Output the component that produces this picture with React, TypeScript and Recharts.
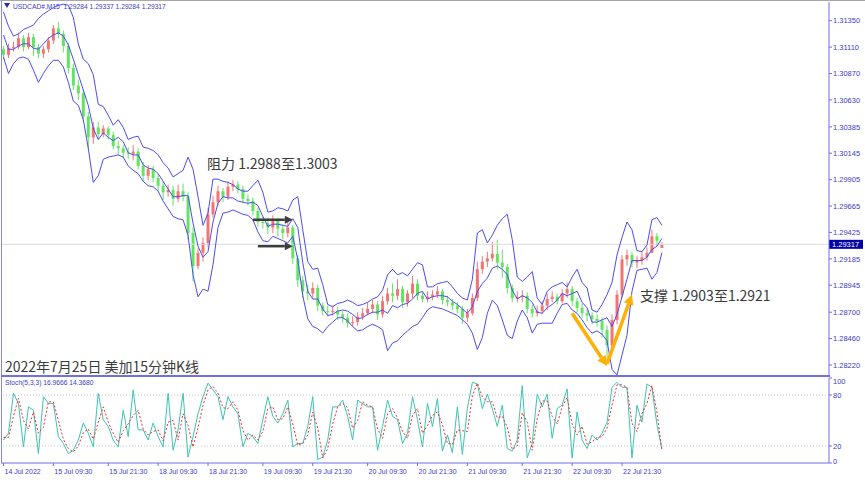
import React from 'react';
import { ComposedChart, Bar, Line, XAxis, YAxis, ReferenceLine } from 'recharts';

// USDCAD M15, one row per ~72 minutes of the screenshot
const open = [
  1.3109, 1.3104, 1.3110, 1.3111, 1.3119, 1.3111, 1.3120, 1.3111, 1.3105, 1.3109,
  1.3117, 1.3128, 1.3123, 1.3112, 1.3092, 1.3076, 1.3069, 1.3048, 1.3029, 1.3038,
  1.3032, 1.3037, 1.3031, 1.3021, 1.3019, 1.3015, 1.3014, 1.3016, 1.3003, 1.2994,
  1.3000, 1.2992, 1.2985, 1.2979, 1.2981, 1.2973, 1.2980, 1.2975, 1.2942, 1.2912,
  1.2924, 1.2933, 1.2959, 1.2970, 1.2980, 1.2975, 1.2984, 1.2986, 1.2982, 1.2973,
  1.2971, 1.2962, 1.2952, 1.2951, 1.2947, 1.2953, 1.2946, 1.2942, 1.2947, 1.2919,
  1.2899, 1.2889, 1.2887, 1.2892, 1.2876, 1.2871, 1.2870, 1.2871, 1.2868, 1.2865,
  1.2860, 1.2861, 1.2866, 1.2869, 1.2873, 1.2877, 1.2868, 1.2880, 1.2887, 1.2885,
  1.2891, 1.2879, 1.2887, 1.2896, 1.2885, 1.2882, 1.2884, 1.2886, 1.2889, 1.2881,
  1.2879, 1.2876, 1.2873, 1.2865, 1.2869, 1.2883, 1.2909, 1.2916, 1.2919, 1.2923,
  1.2915, 1.2911, 1.2892, 1.2883, 1.2884, 1.2885, 1.2873, 1.2869, 1.2871, 1.2876,
  1.2882, 1.2884, 1.2880, 1.2887, 1.2891, 1.2880, 1.2874, 1.2869, 1.2867, 1.2864,
  1.2862, 1.2854, 1.2840, 1.2863, 1.2886, 1.2918, 1.2922, 1.2915, 1.2917, 1.2920,
  1.2924, 1.2939, 1.29284,
];

const high = [
  1.3112, 1.3114, 1.3116, 1.3124, 1.3122, 1.3124, 1.3123, 1.3114, 1.3112, 1.3120,
  1.3131, 1.3134, 1.3126, 1.3115, 1.3096, 1.3081, 1.3072, 1.3052, 1.3043, 1.3043,
  1.3040, 1.3039, 1.3034, 1.3026, 1.3022, 1.3020, 1.3022, 1.3019, 1.3007, 1.3004,
  1.3003, 1.2996, 1.2989, 1.2986, 1.2985, 1.2986, 1.2987, 1.2979, 1.2947, 1.2928,
  1.2938, 1.2965, 1.2976, 1.2985, 1.2983, 1.2989, 1.2990, 1.2989, 1.2985, 1.2977,
  1.2974, 1.2965, 1.2957, 1.2956, 1.2958, 1.2956, 1.2950, 1.2952, 1.2949, 1.2922,
  1.2903, 1.2895, 1.2897, 1.2895, 1.2879, 1.2876, 1.2876, 1.2875, 1.2871, 1.2869,
  1.2866, 1.2870, 1.2874, 1.2879, 1.2881, 1.2880, 1.2885, 1.2892, 1.2896, 1.2900,
  1.2894, 1.2890, 1.2903, 1.2900, 1.2889, 1.2889, 1.2890, 1.2894, 1.2891, 1.2885,
  1.2882, 1.2879, 1.2876, 1.2873, 1.2887, 1.2916, 1.2921, 1.2925, 1.2934, 1.2936,
  1.2927, 1.2914, 1.2895, 1.2889, 1.2890, 1.2888, 1.2877, 1.2876, 1.2880, 1.2887,
  1.2889, 1.2887, 1.2891, 1.2897, 1.2894, 1.2883, 1.2878, 1.2873, 1.2870, 1.2868,
  1.2865, 1.2858, 1.2868, 1.2890, 1.2922, 1.2927, 1.2925, 1.2921, 1.2925, 1.2929,
  1.2945, 1.2942, 1.29337,
];

const low = [
  1.3100, 1.3101, 1.3107, 1.3109, 1.3107, 1.3109, 1.3103, 1.3101, 1.3101, 1.3106,
  1.3114, 1.3119, 1.3106, 1.3087, 1.3072, 1.3063, 1.3043, 1.3018, 1.3023, 1.3027,
  1.3029, 1.3027, 1.3018, 1.3013, 1.3010, 1.3009, 1.3008, 1.3000, 1.2989, 1.2990,
  1.2988, 1.2980, 1.2972, 1.2975, 1.2967, 1.2970, 1.2971, 1.2936, 1.2898, 1.2909,
  1.2916, 1.2929, 1.2956, 1.2967, 1.2970, 1.2972, 1.2980, 1.2978, 1.2969, 1.2967,
  1.2958, 1.2948, 1.2946, 1.2941, 1.2942, 1.2939, 1.2936, 1.2938, 1.2914, 1.2893,
  1.2883, 1.2881, 1.2883, 1.2871, 1.2867, 1.2866, 1.2867, 1.2863, 1.2860, 1.2856,
  1.2857, 1.2858, 1.2863, 1.2867, 1.2869, 1.2863, 1.2865, 1.2877, 1.2879, 1.2881,
  1.2874, 1.2875, 1.2883, 1.2881, 1.2879, 1.2879, 1.2881, 1.2883, 1.2877, 1.2875,
  1.2872, 1.2869, 1.2859, 1.2861, 1.2867, 1.2880, 1.2905, 1.2911, 1.2916, 1.2909,
  1.2901, 1.2887, 1.2879, 1.2879, 1.2879, 1.2869, 1.2865, 1.2866, 1.2868, 1.2872,
  1.2879, 1.2877, 1.2878, 1.2883, 1.2876, 1.2870, 1.2865, 1.2862, 1.2859, 1.2857,
  1.2847, 1.2827, 1.2834, 1.2859, 1.2883, 1.2912, 1.2911, 1.2910, 1.2913, 1.2917,
  1.2924, 1.2930, 1.29284,
];

const close = [
  1.3104, 1.3110, 1.3111, 1.3119, 1.3111, 1.3120, 1.3111, 1.3105, 1.3109, 1.3117,
  1.3128, 1.3123, 1.3112, 1.3092, 1.3076, 1.3069, 1.3048, 1.3029, 1.3038, 1.3032,
  1.3037, 1.3031, 1.3021, 1.3019, 1.3015, 1.3014, 1.3016, 1.3003, 1.2994, 1.3000,
  1.2992, 1.2985, 1.2979, 1.2981, 1.2973, 1.2980, 1.2975, 1.2942, 1.2912, 1.2924,
  1.2933, 1.2959, 1.2970, 1.2980, 1.2975, 1.2984, 1.2986, 1.2982, 1.2973, 1.2971,
  1.2962, 1.2952, 1.2951, 1.2947, 1.2953, 1.2946, 1.2942, 1.2947, 1.2919, 1.2899,
  1.2889, 1.2887, 1.2892, 1.2876, 1.2871, 1.2870, 1.2871, 1.2868, 1.2865, 1.2860,
  1.2861, 1.2866, 1.2869, 1.2873, 1.2877, 1.2868, 1.2880, 1.2887, 1.2885, 1.2891,
  1.2879, 1.2887, 1.2896, 1.2885, 1.2882, 1.2884, 1.2886, 1.2889, 1.2881, 1.2879,
  1.2876, 1.2873, 1.2865, 1.2869, 1.2883, 1.2909, 1.2916, 1.2919, 1.2923, 1.2915,
  1.2911, 1.2892, 1.2883, 1.2884, 1.2885, 1.2873, 1.2869, 1.2871, 1.2876, 1.2882,
  1.2884, 1.2880, 1.2887, 1.2891, 1.2880, 1.2874, 1.2869, 1.2867, 1.2864, 1.2862,
  1.2854, 1.2840, 1.2863, 1.2886, 1.2918, 1.2922, 1.2915, 1.2917, 1.2920, 1.2924,
  1.2939, 1.2935, 1.29317,
];

// bollinger bands
const bbUpper = [
  1.3143, 1.3130, 1.3121, 1.3123, 1.3127, 1.3129, 1.3131, 1.3137, 1.3141, 1.3144,
  1.3147, 1.3149, 1.3150, 1.3149, 1.3138, 1.3114, 1.3100, 1.3096, 1.3086, 1.3059,
  1.3057, 1.3049, 1.3040, 1.3045, 1.3038, 1.3027, 1.3029, 1.3030, 1.3020, 1.3019,
  1.3017, 1.3013, 1.3006, 1.3001, 1.2993, 1.2996, 1.2999, 1.3011, 1.3000, 1.2975,
  1.2949, 1.2960, 1.2991, 1.2991, 1.2989, 1.2988, 1.2986, 1.2982, 1.2980, 1.2980,
  1.2985, 1.2990, 1.2979, 1.2961, 1.2962, 1.2965, 1.2964, 1.2962, 1.2972, 1.2975,
  1.2945, 1.2916, 1.2909, 1.2910, 1.2895, 1.2877, 1.2875, 1.2878, 1.2879, 1.2881,
  1.2879, 1.2876, 1.2877, 1.2879, 1.2882, 1.2884, 1.2890, 1.2904, 1.2909, 1.2904,
  1.2906, 1.2903, 1.2909, 1.2915, 1.2913, 1.2893, 1.2893, 1.2896, 1.2897, 1.2898,
  1.2893, 1.2887, 1.2883, 1.2881, 1.2900, 1.2942, 1.2945, 1.2933, 1.2940, 1.2949,
  1.2955, 1.2959, 1.2936, 1.2902, 1.2898, 1.2902, 1.2907, 1.2883, 1.2877, 1.2889,
  1.2893, 1.2895, 1.2897, 1.2893, 1.2902, 1.2909, 1.2897, 1.2892, 1.2872, 1.2870,
  1.2877, 1.2886, 1.2897, 1.2922, 1.2938, 1.2952, 1.2945, 1.2926, 1.2925, 1.2931,
  1.2954, 1.2956, 1.2949,
];

const bbMid = [
  1.3122, 1.3109, 1.3109, 1.3112, 1.3114, 1.3114, 1.3110, 1.3109, 1.3114, 1.3119,
  1.3122, 1.3124, 1.3121, 1.3113, 1.3100, 1.3086, 1.3072, 1.3058, 1.3037, 1.3027,
  1.3033, 1.3029, 1.3026, 1.3029, 1.3025, 1.3015, 1.3013, 1.3013, 1.3004, 1.3001,
  1.3000, 1.2996, 1.2989, 1.2982, 1.2975, 1.2975, 1.2976, 1.2976, 1.2951, 1.2930,
  1.2920, 1.2925, 1.2952, 1.2969, 1.2975, 1.2974, 1.2974, 1.2971, 1.2970, 1.2969,
  1.2970, 1.2967, 1.2957, 1.2948, 1.2950, 1.2950, 1.2949, 1.2948, 1.2955, 1.2947,
  1.2915, 1.2889, 1.2882, 1.2882, 1.2873, 1.2867, 1.2868, 1.2871, 1.2872, 1.2871,
  1.2868, 1.2864, 1.2865, 1.2868, 1.2870, 1.2870, 1.2872, 1.2869, 1.2876, 1.2874,
  1.2877, 1.2878, 1.2882, 1.2887, 1.2889, 1.2882, 1.2884, 1.2885, 1.2885, 1.2884,
  1.2880, 1.2877, 1.2873, 1.2869, 1.2875, 1.2889, 1.2896, 1.2901, 1.2910, 1.2912,
  1.2909, 1.2904, 1.2890, 1.2882, 1.2885, 1.2883, 1.2879, 1.2870, 1.2869, 1.2874,
  1.2877, 1.2881, 1.2887, 1.2885, 1.2887, 1.2889, 1.2879, 1.2874, 1.2861, 1.2861,
  1.2863, 1.2865, 1.2857, 1.2868, 1.2884, 1.2900, 1.2917, 1.2917, 1.2917, 1.2920,
  1.2927, 1.2930, 1.2937,
];

const bbLower = [
  1.3102, 1.3087, 1.3096, 1.3101, 1.3102, 1.3100, 1.3090, 1.3079, 1.3087, 1.3094,
  1.3099, 1.3099, 1.3093, 1.3079, 1.3062, 1.3058, 1.3045, 1.3019, 1.2988, 1.2994,
  1.3009, 1.3011, 1.3012, 1.3013, 1.3011, 1.3003, 1.2999, 1.2996, 1.2989, 1.2985,
  1.2984, 1.2980, 1.2971, 1.2964, 1.2957, 1.2955, 1.2954, 1.2940, 1.2904, 1.2884,
  1.2891, 1.2889, 1.2913, 1.2947, 1.2960, 1.2961, 1.2963, 1.2961, 1.2959, 1.2958,
  1.2954, 1.2943, 1.2935, 1.2934, 1.2939, 1.2937, 1.2935, 1.2933, 1.2939, 1.2918,
  1.2885, 1.2864, 1.2857, 1.2855, 1.2851, 1.2857, 1.2861, 1.2865, 1.2865, 1.2862,
  1.2857, 1.2853, 1.2854, 1.2857, 1.2859, 1.2857, 1.2854, 1.2835, 1.2842, 1.2844,
  1.2849, 1.2853, 1.2857, 1.2859, 1.2865, 1.2872, 1.2875, 1.2874, 1.2873, 1.2871,
  1.2869, 1.2867, 1.2863, 1.2859, 1.2851, 1.2836, 1.2847, 1.2869, 1.2881, 1.2876,
  1.2863, 1.2849, 1.2846, 1.2862, 1.2872, 1.2865, 1.2851, 1.2859, 1.2860, 1.2860,
  1.2860, 1.2869, 1.2877, 1.2878, 1.2872, 1.2869, 1.2863, 1.2856, 1.2851, 1.2853,
  1.2850, 1.2844, 1.2818, 1.2813, 1.2831, 1.2849, 1.2889, 1.2908, 1.2909, 1.2910,
  1.2900, 1.2906, 1.2924,
];

// Stoch(5,3,3)
const stochK = [
  27, 35, 82, 70, 19, 66, 62, 11, 78, 70,
  70, 31, 23, 11, 15, 27, 47, 35, 19, 82,
  51, 43, 27, 19, 62, 31, 86, 39, 39, 27,
  47, 31, 19, 82, 15, 39, 82, 7, 31, 58,
  78, 94, 86, 78, 51, 78, 66, 58, 19, 35,
  31, 23, 51, 78, 55, 47, 58, 74, 19, 23,
  23, 43, 78, 4, 7, 27, 66, 66, 74, 55,
  27, 74, 70, 66, 66, 15, 43, 74, 55, 51,
  23, 35, 78, 51, 19, 70, 43, 76, 14, 33,
  12, 66, 10, 64, 95, 93, 64, 81, 64, 43,
  68, 17, 14, 27, 91, 6, 23, 81, 66, 81,
  29, 64, 68, 87, 6, 60, 27, 17, 33, 27,
  35, 48, 89, 95, 89, 89, 6, 68, 48, 93,
  89, 45, 16.9666,
];

const stochD = [
  30, 30, 55, 76, 50, 40, 60, 35, 42, 72,
  72, 50, 28, 17, 13, 20, 36, 40, 28, 48,
  66, 48, 35, 24, 38, 46, 56, 62, 40, 33,
  37, 39, 26, 48, 50, 27, 58, 44, 19, 42,
  68, 86, 90, 82, 65, 64, 72, 62, 38, 27,
  33, 27, 37, 64, 66, 51, 52, 66, 46, 21,
  23, 33, 60, 41, 6, 17, 46, 66, 70, 65,
  41, 50, 72, 68, 66, 40, 29, 58, 64, 53,
  37, 29, 56, 64, 35, 44, 56, 60, 45, 23,
  22, 39, 38, 37, 79, 94, 78, 72, 72, 53,
  55, 42, 16, 20, 59, 48, 15, 52, 73, 73,
  55, 46, 66, 77, 46, 33, 43, 22, 25, 30,
  31, 41, 68, 92, 92, 89, 47, 37, 58, 70,
  91, 60, 14.368,
];

const timeTickRows = [0, 10, 21, 31, 41, 52, 62, 73, 83, 93, 104, 114, 124];
const timeTickLabels = [
  '14 Jul 2022', '15 Jul 09:30', '15 Jul 21:30', '18 Jul 09:30', '18 Jul 21:30',
  '19 Jul 09:30', '19 Jul 21:30', '20 Jul 09:30', '20 Jul 21:30', '21 Jul 09:30',
  '21 Jul 21:30', '22 Jul 09:30', '22 Jul 21:30',
];

const priceTicks = [
  1.3135, 1.3111, 1.3087, 1.3063, 1.30385, 1.30145, 1.29905, 1.29665,
  1.29425, 1.29185, 1.28945, 1.287, 1.2846, 1.2822,
];
const stochTicks = [0, 20, 80, 100];

// annotation arrows, in row / price units
const resistArrows = [
  [{ x: 50, y: 1.2954 }, { x: 58, y: 1.2954 }],
  [{ x: 51, y: 1.293 }, { x: 58, y: 1.293 }],
];
const supportArrows = [
  [{ x: 114, y: 1.2869 }, { x: 121, y: 1.2821 }],
  [{ x: 121, y: 1.2823 }, { x: 126, y: 1.2886 }],
];

const SLOTS = 166; // MT4 leaves empty space right of the last bar
const lastClose = close[close.length - 1];

const rows = Array.from({ length: SLOTS }, (_, i) =>
  i < close.length
    ? {
        t: i,
        open: open[i],
        high: high[i],
        low: low[i],
        close: close[i],
        range: [low[i], high[i]],
        upper: bbUpper[i],
        mid: bbMid[i],
        lower: bbLower[i],
        k: stochK[i],
        d: stochD[i],
      }
    : { t: i }
);

const UP = '#f47474';
const DOWN = '#62e462';
const BAND = '#4c4cf0';
const AXIS = '#6f6fe6';
const AXIS_TEXT = '#3c3cc8';
const SMALL_FONT = "'Liberation Sans', Arial, sans-serif";
const CJK_FONT = "'Noto Sans CJK SC', 'Noto Sans', sans-serif";

const Candle = (props: any) => {
  const { x, width, payload } = props;
  let { y, height } = props;
  if (!payload || payload.open == null || !isFinite(y) || !isFinite(height)) return null;
  if (height < 0) {
    y += height;
    height = -height;
  }
  const { open: o, close: c, high: h, low: l } = payload;
  const color = c >= o ? UP : DOWN;
  const k = height / (h - l || 1e-9);
  const top = y + (h - Math.max(o, c)) * k;
  const bot = y + (h - Math.min(o, c)) * k;
  const cx = x + width / 2;
  return (
    <g>
      <line x1={cx} x2={cx} y1={y} y2={y + height} stroke={color} strokeWidth={1} />
      <rect x={x} y={top} width={width} height={Math.max(bot - top, 1)} fill={color} />
    </g>
  );
};

const arrowShape = (color: string, w: number, head: number) => (p: any) => {
  const { x1, y1, x2, y2 } = p;
  if (![x1, y1, x2, y2].every((v) => isFinite(v))) return null;
  const a = Math.atan2(y2 - y1, x2 - x1);
  const bx = x2 - head * Math.cos(a);
  const by = y2 - head * Math.sin(a);
  const hw = head * 0.5;
  const pts = [
    `${x2},${y2}`,
    `${bx - hw * Math.sin(a)},${by + hw * Math.cos(a)}`,
    `${bx + hw * Math.sin(a)},${by - hw * Math.cos(a)}`,
  ].join(' ');
  return (
    <g>
      <line x1={x1} y1={y1} x2={bx} y2={by} stroke={color} strokeWidth={w} />
      <polygon points={pts} fill={color} />
    </g>
  );
};

const PriceTag = (props: any) => {
  const vb = props.viewBox || {};
  const x = (vb.x ?? 0) + (vb.width ?? 0);
  const y = vb.y ?? 0;
  return (
    <g>
      <rect x={x} y={y - 4.5} width={34} height={9} fill="#0000a6" />
      <text x={x + 3} y={y + 2.7} fontSize={7.5} fill="#ffffff" fontFamily={SMALL_FONT}>
        {lastClose.toFixed(5)}
      </text>
    </g>
  );
};

const TimeTick = (props: any) => {
  const { x, y, payload } = props;
  const idx = timeTickRows.indexOf(payload.value);
  if (idx < 0) return null;
  return (
    <text x={x + 1} y={y + 6} fontSize={7} fill={AXIS_TEXT} fontFamily={SMALL_FONT} textAnchor="start">
      {timeTickLabels[idx]}
    </text>
  );
};

// MT4 keeps the 100 / 0 labels inside the indicator window
const StochTick = (props: any) => {
  const { x, y, payload } = props;
  const v = payload.value;
  const dy = v === 100 ? 5.5 : v === 0 ? 1.2 : 2.7;
  return (
    <text x={x} y={y + dy} fontSize={7.5} fill={AXIS_TEXT} fontFamily={SMALL_FONT} textAnchor="start">
      {v}
    </text>
  );
};

const yTick = { fontSize: 7.5, fill: AXIS_TEXT, fontFamily: SMALL_FONT };

const note: React.CSSProperties = {
  position: 'absolute',
  fontFamily: CJK_FONT,
  fontSize: 14,
  lineHeight: '14px',
  color: '#3a3a3a',
  whiteSpace: 'nowrap',
};

const small: React.CSSProperties = {
  position: 'absolute',
  fontFamily: SMALL_FONT,
  fontSize: 6.7,
  lineHeight: '8px',
  color: AXIS_TEXT,
  whiteSpace: 'nowrap',
};

export default function App() {
  return (
    <div style={{ position: 'relative', width: 865, height: 480, background: '#fff', overflow: 'hidden' }}>
      <style>{'body{margin:0}'}</style>

      <div style={{ position: 'absolute', left: 0, top: 0 }}>
        <ComposedChart width={865} height={376} data={rows} margin={{ top: 2, right: 0, bottom: 0, left: 1 }}>
          <XAxis dataKey="t" type="category" scale="band" hide />
          <YAxis
            orientation="right"
            width={36}
            domain={[1.2812, 1.3152]}
            allowDataOverflow
            ticks={priceTicks}
            interval={0}
            tickFormatter={(v: number) => v.toFixed(5)}
            tick={yTick}
            tickSize={3}
            tickMargin={1}
            tickLine={{ stroke: AXIS }}
            axisLine={{ stroke: AXIS }}
          />
          <ReferenceLine y={lastClose} stroke="#d9d9e6" strokeWidth={1} label={PriceTag} />
          <Line dataKey="upper" stroke={BAND} strokeWidth={1} dot={false} isAnimationActive={false} />
          <Line dataKey="lower" stroke={BAND} strokeWidth={1} dot={false} isAnimationActive={false} />
          <Bar dataKey="range" barSize={3} shape={Candle} isAnimationActive={false} />
          <Line dataKey="mid" stroke={BAND} strokeWidth={1} dot={false} isAnimationActive={false} />
          {resistArrows.map((seg, i) => (
            <ReferenceLine key={`r${i}`} segment={seg} shape={arrowShape('#3d3d3d', 2.5, 8)} />
          ))}
          {supportArrows.map((seg, i) => (
            <ReferenceLine key={`s${i}`} segment={seg} shape={arrowShape('#ffb000', 3.5, 10)} />
          ))}
        </ComposedChart>
      </div>

      <div style={{ position: 'absolute', left: 0, top: 376 }}>
        <ComposedChart width={865} height={104} data={rows} margin={{ top: 2, right: 0, bottom: 0, left: 1 }}>
          <XAxis
            dataKey="t"
            type="category"
            scale="band"
            height={17}
            ticks={timeTickRows}
            interval={0}
            tick={<TimeTick />}
            tickSize={3}
            tickLine={{ stroke: AXIS }}
            axisLine={{ stroke: AXIS }}
          />
          <YAxis
            orientation="right"
            width={36}
            domain={[0, 100]}
            allowDataOverflow
            ticks={stochTicks}
            interval={0}
            tick={<StochTick />}
            tickSize={3}
            tickMargin={1}
            tickLine={{ stroke: AXIS }}
            axisLine={{ stroke: AXIS }}
          />
          <ReferenceLine y={80} stroke="#c4c4c4" strokeDasharray="1 2" />
          <ReferenceLine y={20} stroke="#c4c4c4" strokeDasharray="1 2" />
          <Line dataKey="k" stroke="#3cc3b4" strokeWidth={1} dot={false} isAnimationActive={false} />
          <Line dataKey="d" stroke="#f03030" strokeWidth={1} strokeDasharray="2 2" dot={false} isAnimationActive={false} />
        </ComposedChart>
      </div>

      {/* frame */}
      <div style={{ position: 'absolute', left: 0, top: 0, width: 865, height: 1, background: '#a8a8a8' }} />
      <div style={{ position: 'absolute', left: 1, top: 1, width: 1, height: 462, background: '#8a8ad8' }} />
      <div style={{ position: 'absolute', left: 1, top: 375, width: 829, height: 2, background: AXIS }} />

      {/* texts */}
      <div style={{ position: 'absolute', left: 4, top: 3, width: 0, height: 0, borderLeft: '3px solid transparent', borderRight: '3px solid transparent', borderTop: '5px solid #2a2aa8' }} />
      <div style={{ ...small, left: 13, top: 3 }}>USDCAD#,M15&nbsp; 1.29284 1.29337 1.29284 1.29317</div>
      <div style={{ ...small, left: 5, top: 379 }}>Stoch(5,3,3) 16.9666 14.3680</div>
      <div style={{ ...note, left: 207, top: 156 }}>阻力 1.2988至1.3003</div>
      <div style={{ ...note, left: 640, top: 288 }}>支撑 1.2903至1.2921</div>
      <div style={{ ...note, left: 5, top: 359 }}>2022年7月25日 美加15分钟K线</div>
    </div>
  );
}
